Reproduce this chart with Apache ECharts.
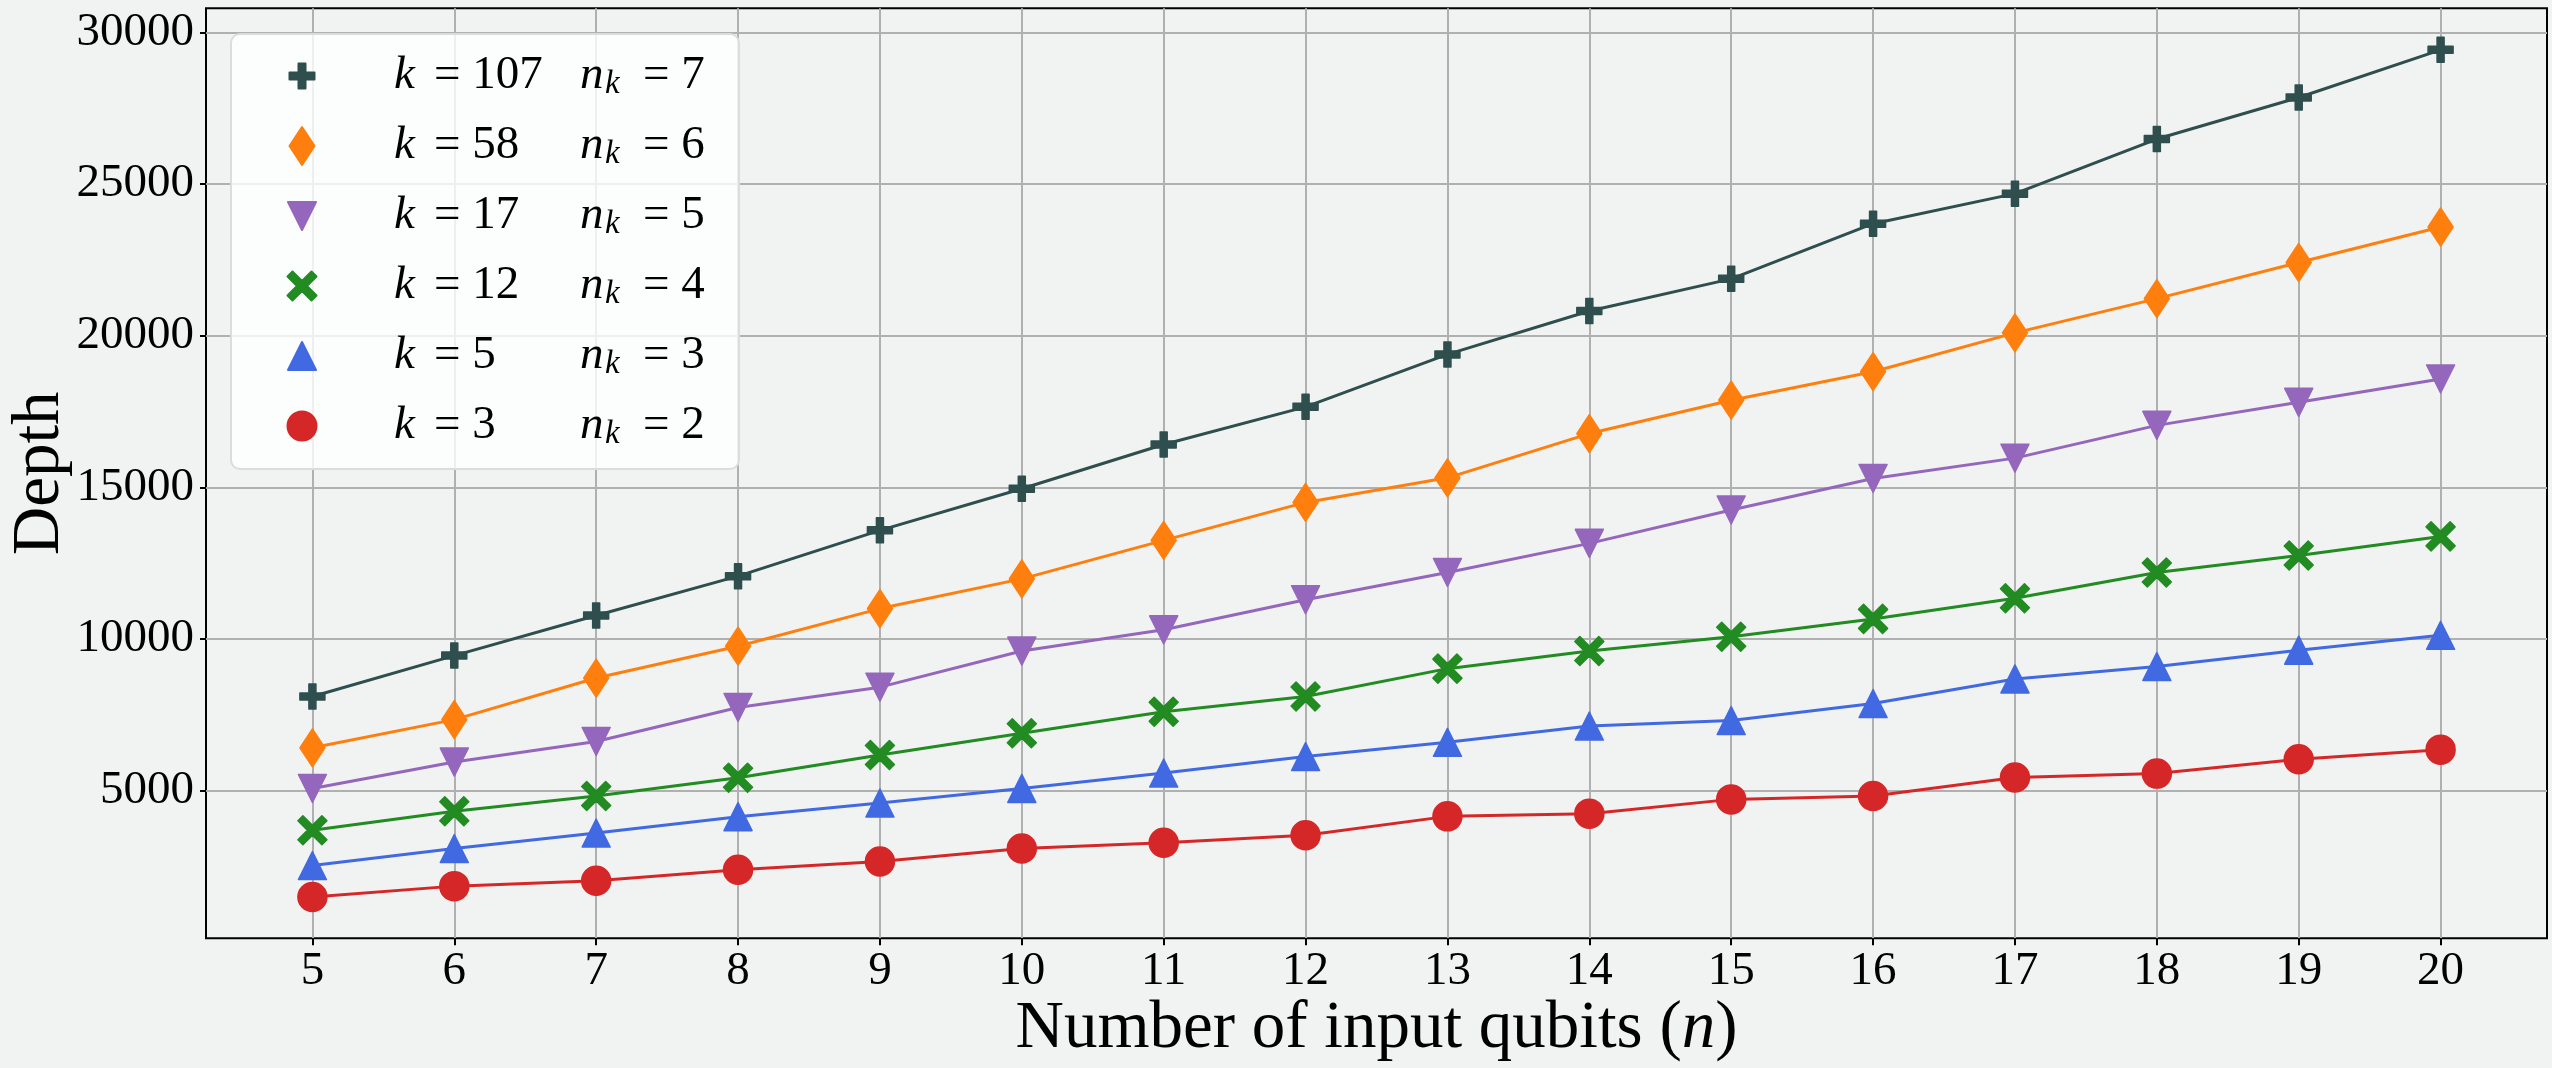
<!DOCTYPE html>
<html>
<head>
<meta charset="utf-8">
<script src="https://cdn.jsdelivr.net/npm/echarts@6/dist/echarts.min.js"></script>
<style>
html,body{margin:0;padding:0;background:#f1f3f2;}
#c{width:2552px;height:1068px;}
</style>
</head>
<body>
<div id="c"></div>
<script>
// ---------------- data ----------------
const nQubits = [5, 6, 7, 8, 9, 10, 11, 12, 13, 14, 15, 16, 17, 18, 19, 20];
const kValues = [107, 58, 17, 12, 5, 3];
const nkValues = [7, 6, 5, 4, 3, 2];
const depthK107 = [8100, 9450, 10770, 12070, 13580, 14950, 16410, 17650, 19380, 20810, 21870, 23690, 24680, 26480, 27850, 29420];
const depthK58  = [6410, 7340, 8710, 9760, 11000, 11980, 13250, 14500, 15310, 16770, 17870, 18810, 20090, 21220, 22410, 23580];
const depthK17  = [5070, 5940, 6620, 7740, 8410, 9600, 10300, 11290, 12190, 13150, 14250, 15290, 15960, 17040, 17800, 18570];
const depthK12  = [3690, 4320, 4820, 5420, 6170, 6890, 7600, 8100, 9020, 9600, 10070, 10660, 11340, 12190, 12750, 13380];
const depthK5   = [2530, 3090, 3600, 4140, 4590, 5070, 5580, 6120, 6590, 7130, 7310, 7870, 8680, 9090, 9630, 10120];
const depthK3   = [1490, 1850, 2030, 2390, 2660, 3090, 3280, 3530, 4150, 4240, 4710, 4820, 5430, 5560, 6030, 6350];
const xTickRange = [5, 20];
const yTickRange = [5000, 30000];
const yTickStep = 5000;
const xLimits = [4.25, 20.75];
const yLimits = [130, 30790];
const xTitle = 'Number of input qubits ({i|n})';
const yTitle = 'Depth';

// ---------------- style / layout ----------------
const W = 2552, H = 1068;
const PLOT = {left: 206, right: 2547, top: 8.3, bottom: 938.3};
const FONT = '"Liberation Serif", "DejaVu Serif", serif';
const BG = '#f1f3f2';
const GRIDC = '#b0b0b0';
const COLORS = ['#2f4f4f', '#ff7f0e', '#9467bd', '#228b22', '#4169e1', '#d62728'];
// symbols in a padded 40x40 box (the leading moves fix the bounding box)
const PAD = 'M0,0 M40,40 ';
const ICONS = [
  'path://' + PAD + 'M16.5,7.5 H23.5 V16.5 H32.5 V23.5 H23.5 V32.5 H16.5 V23.5 H7.5 V16.5 H16.5 Z',
  'path://' + PAD + 'M20,1 L32.5,20 L20,39 L7.5,20 Z',
  'path://' + PAD + 'M6,6 L34,6 L20,34 Z',
  'path://' + PAD + 'M5.5,10.5 L10.5,5.5 L20,15 L29.5,5.5 L34.5,10.5 L25,20 L34.5,29.5 L29.5,34.5 L20,25 L10.5,34.5 L5.5,29.5 L15,20 Z',
  'path://' + PAD + 'M20,6 L34,34 L6,34 Z',
  'path://' + PAD + 'M34.5,20 A14.5,14.5 0 1 1 5.5,20 A14.5,14.5 0 1 1 34.5,20 Z'
];
const seriesValues = [depthK107, depthK58, depthK17, depthK12, depthK5, depthK3];
const names = kValues.map((k, i) => 'k=' + k + ' nk=' + nkValues[i]);

function px(x) { return PLOT.left + (x - xLimits[0]) / (xLimits[1] - xLimits[0]) * (PLOT.right - PLOT.left); }
function py(y) { return PLOT.bottom - (y - yLimits[0]) / (yLimits[1] - yLimits[0]) * (PLOT.bottom - PLOT.top); }

const chart = echarts.init(document.getElementById('c'), null, {renderer: 'canvas', width: W, height: H});

const labelStyle = {fontFamily: FONT, fontSize: 47, color: '#000', formatter: function (v) { return String(v); }};

const option = {
  backgroundColor: BG,
  animation: false,
  grid: [
    {left: PLOT.left, right: W - PLOT.right, top: PLOT.top, bottom: H - PLOT.bottom,
     show: true, borderColor: '#000', borderWidth: 2, backgroundColor: 'transparent', outerBoundsMode: 'none', containLabel: false},
    {left: px(xTickRange[0]), right: W - px(xTickRange[1]), top: PLOT.top, bottom: H - PLOT.bottom, outerBoundsMode: 'none', containLabel: false},
    {left: PLOT.left, right: W - PLOT.right, top: py(yTickRange[1]), bottom: H - py(yTickRange[0]), outerBoundsMode: 'none', containLabel: false}
  ],
  xAxis: [
    {gridIndex: 0, type: 'value', min: xLimits[0], max: xLimits[1],
     axisLine: {show: false}, axisTick: {show: false}, axisLabel: {show: false}, splitLine: {show: false},
     name: xTitle, nameLocation: 'middle', nameGap: 58,
     nameTextStyle: {fontFamily: FONT, fontSize: 67, color: '#000',
       rich: {i: {fontFamily: FONT, fontSize: 67, fontStyle: 'italic', color: '#000'}}}},
    {gridIndex: 1, type: 'value', min: xTickRange[0], max: xTickRange[1], interval: 1, position: 'bottom',
     axisLine: {show: false},
     axisTick: {show: true, inside: false, length: 7, lineStyle: {color: '#000', width: 2}},
     axisLabel: Object.assign({margin: 10}, labelStyle),
     splitLine: {show: true, lineStyle: {color: GRIDC, width: 2}}},
    {gridIndex: 2, type: 'value', show: false, min: 0, max: 1}
  ],
  yAxis: [
    {gridIndex: 0, type: 'value', min: yLimits[0], max: yLimits[1],
     axisLine: {show: false}, axisTick: {show: false}, axisLabel: {show: false}, splitLine: {show: false},
     name: yTitle, nameLocation: 'middle', nameGap: 132,
     nameTextStyle: {fontFamily: FONT, fontSize: 67, color: '#000'}},
    {gridIndex: 1, type: 'value', show: false, min: 0, max: 1},
    {gridIndex: 2, type: 'value', min: yTickRange[0], max: yTickRange[1], interval: yTickStep, position: 'left',
     axisLine: {show: false},
     axisTick: {show: true, inside: false, length: 6, lineStyle: {color: '#000', width: 2}},
     axisLabel: Object.assign({margin: 12}, labelStyle),
     splitLine: {show: true, lineStyle: {color: GRIDC, width: 2}}}
  ],
  legend: {
    orient: 'vertical', left: 231, top: 34,
    padding: [17, 24, 18, 50],
    itemWidth: 40, itemHeight: 40, itemGap: 20,
    backgroundColor: 'rgba(255,255,255,0.8)', borderColor: '#dcdcdc', borderWidth: 2, borderRadius: 9,
    selectedMode: false,
    data: names.map((n, i) => ({name: n, icon: ICONS[i]})),
    formatter: function (name) {
      const i = names.indexOf(name);
      return '{sp| }{ki|k}{eq|= ' + kValues[i] + '}{ni|n}{sb|k}{eq2|= ' + nkValues[i] + '}';
    },
    textStyle: {
      fontFamily: FONT, fontSize: 47, color: '#000', lineHeight: 50,
      rich: {
        sp: {width: 67, fontSize: 47, lineHeight: 50},
        ki: {width: 40, fontFamily: FONT, fontSize: 47, fontStyle: 'italic', color: '#000', lineHeight: 50},
        eq: {width: 146, fontFamily: FONT, fontSize: 47, color: '#000', lineHeight: 50},
        ni: {width: 25, fontFamily: FONT, fontSize: 47, fontStyle: 'italic', color: '#000', lineHeight: 50},
        sb: {width: 38, fontFamily: FONT, fontSize: 33, fontStyle: 'italic', color: '#000', lineHeight: 22, verticalAlign: 'bottom'},
        eq2: {width: 72, fontFamily: FONT, fontSize: 47, color: '#000', lineHeight: 50}
      }
    }
  },
  series: seriesValues.map((vals, i) => ({
    type: 'line',
    name: names[i],
    xAxisIndex: 0, yAxisIndex: 0,
    data: nQubits.map((n, j) => [n, vals[j]]),
    symbol: ICONS[i],
    symbolSize: 40,
    showSymbol: true,
    showAllSymbol: true,
    lineStyle: {color: COLORS[i], width: 3},
    itemStyle: {color: COLORS[i], borderColor: COLORS[i], borderWidth: 1.5, borderJoin: 'round', opacity: 1},
    emphasis: {disabled: true},
    z: 3 + (6 - i)
  }))
};
chart.setOption(option);
</script>
</body>
</html>
